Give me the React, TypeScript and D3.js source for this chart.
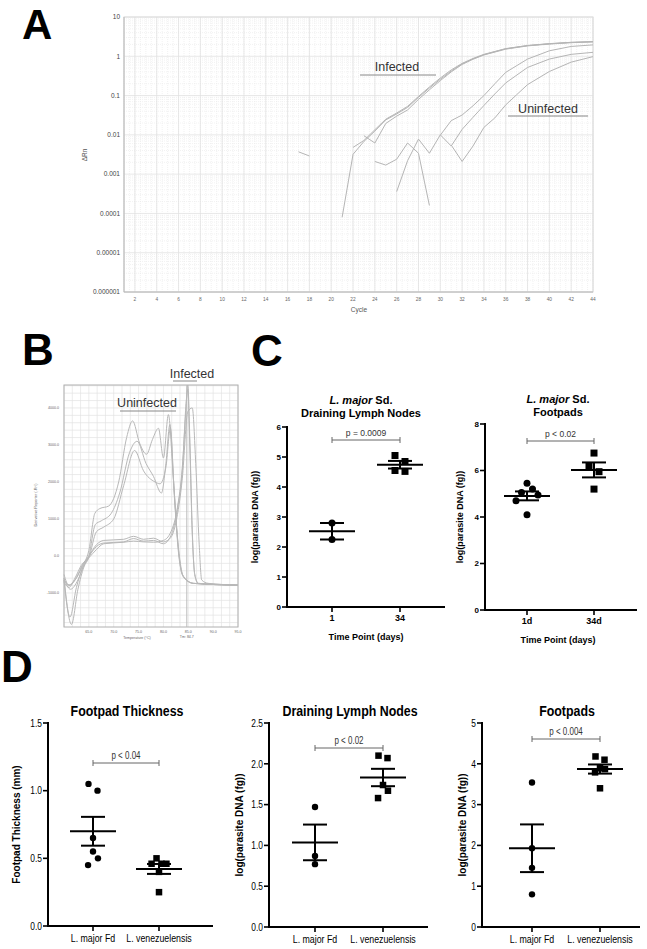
import React from "react";
import * as d3 from "d3";

// ================= DATA =================
// Panel A: amplification plot (cycle, ΔRn)
const ampInfected1: [number, number][] = [[21, 8e-5], [22, 0.0032], [23, 0.0068], [24, 0.0125], [25, 0.024], [26, 0.034], [27, 0.05], [28, 0.09], [29, 0.155], [30, 0.26], [31, 0.42], [32, 0.64], [33, 0.86], [34, 1.1], [36, 1.55], [38, 1.87], [40, 2.08], [42, 2.25], [44, 2.35]];
const ampInfected2: [number, number][] = [[22, 0.0048], [23, 0.0072], [24, 0.0135], [25, 0.025], [26, 0.036], [27, 0.053], [28, 0.095], [29, 0.165], [30, 0.28], [31, 0.45], [32, 0.66], [33, 0.88], [34, 1.12], [36, 1.57], [38, 1.88], [40, 2.1], [42, 2.27], [44, 2.36]];
const ampInfected3: [number, number][] = [[23, 0.0095], [24, 0.0062], [25, 0.0195], [26, 0.03], [27, 0.043], [28, 0.08], [29, 0.14], [30, 0.24], [31, 0.4], [32, 0.62], [33, 0.84], [34, 1.08], [36, 1.52], [38, 1.84], [40, 2.05], [42, 2.22], [44, 2.33]];
const ampUninf1: [number, number][] = [[24, 0.0021], [25, 0.0017], [26, 0.0024], [27, 0.0062], [28, 0.0034], [29, 0.00016]];
const ampUninf2: [number, number][] = [[26, 0.00036], [27, 0.0022], [28, 0.0078], [29, 0.0034], [30, 0.01], [31, 0.0052], [32, 0.0138], [33, 0.028], [34, 0.056], [35, 0.11], [36, 0.21], [38, 0.52], [40, 0.85], [42, 1.12], [44, 1.26]];
const ampUninf3: [number, number][] = [[30, 0.0098], [31, 0.023], [32, 0.032], [33, 0.055], [34, 0.1], [35, 0.2], [36, 0.39], [38, 0.85], [40, 1.38], [42, 1.78], [44, 1.95]];
const ampUninf4: [number, number][] = [[31, 0.0055], [32, 0.0021], [33, 0.0052], [34, 0.0155], [35, 0.027], [36, 0.058], [37, 0.105], [38, 0.19], [40, 0.41], [42, 0.71], [44, 0.98]];
const ampStray: [number, number][] = [[17, 0.0037], [18, 0.0029]];
const ampCurves = [ampInfected1, ampInfected2, ampInfected3, ampUninf1, ampUninf2, ampUninf3, ampUninf4, ampStray];
const ampYTicks = [1e-6, 1e-5, 1e-4, 1e-3, 1e-2, 1e-1, 1, 10];
const ampYTickLabels = ["0.000001", "0.00001", "0.0001", "0.001", "0.01", "0.1", "1", "10"];
const ampXTicks = [2, 4, 6, 8, 10, 12, 14, 16, 18, 20, 22, 24, 26, 28, 30, 32, 34, 36, 38, 40, 42, 44];

// Panel B: melt curves (temperature °C, derivative reporter)
const meltHigh1: [number, number][] = [[60, -500], [61, -800], [62.2, -650], [63.5, -300], [65, 150], [66.2, 1150], [67.2, 1280], [69, 1350], [71, 2000], [72.6, 3200], [73.8, 3650], [75.2, 3050], [76.6, 2750], [77.8, 3150], [79, 3450], [80, 2650], [81, 3820], [81.9, 2300], [82.7, 700], [83.3, -100], [84.1, -580], [86, -740], [95, -790]];
const meltHigh2: [number, number][] = [[60, -650], [61.2, -1650], [62.5, -850], [63.8, -300], [65, 0], [66.3, 850], [67.5, 950], [69.5, 1150], [71.2, 1700], [73.2, 2800], [74.7, 3100], [76.5, 2500], [78, 2150], [79.6, 1700], [80.5, 2500], [81.3, 3550], [82.1, 1900], [83, 200], [83.8, -500], [86, -740], [95, -790]];
const meltHigh3: [number, number][] = [[60, -600], [61.5, -1850], [62.8, -900], [64, -300], [65, -50], [66.5, 650], [68, 780], [70, 1000], [72, 1900], [74.2, 2850], [76, 2300], [78.3, 2000], [79.3, 1950], [80.5, 2400], [81.4, 3450], [82.2, 1600], [83.1, 0], [84, -560], [86, -740], [95, -790]];
const meltLow1: [number, number][] = [[60, -700], [61, -850], [62.2, -600], [63.5, -250], [65, -50], [66.5, 170], [68, 330], [72, 370], [74, 400], [76, 380], [78, 370], [80, 420], [81.5, 650], [82.8, 1300], [83.8, 2400], [84.5, 3900], [84.9, 4620], [85.3, 3200], [85.8, 700], [86.3, -500], [87, -740], [90, -760], [95, -790]];
const meltLow2: [number, number][] = [[60, -650], [61, -780], [62.5, -600], [64, -200], [65, 0], [66.5, 300], [68, 420], [72, 450], [74, 530], [76, 450], [78, 480], [80, 380], [81.5, 500], [82.5, 900], [83.8, 2100], [84.9, 3900], [85.8, 4000], [86.5, 2500], [87.2, 300], [87.7, -650], [89, -740], [95, -790]];
const meltLow3: [number, number][] = [[60, -600], [61.3, -900], [62.8, -650], [64, -250], [65, -20], [66.5, 250], [68, 350], [72, 380], [74, 470], [76, 400], [78, 420], [80, 330], [81.5, 550], [82.8, 1250], [83.8, 2300], [84.6, 4200], [84.9, 4500], [85.3, 3000], [85.8, 600], [86.3, -500], [87, -740], [95, -790]];
const meltCurves = [meltHigh1, meltHigh2, meltHigh3, meltLow1, meltLow2, meltLow3];
const meltYTicks = [-1000, 0, 1000, 2000, 3000, 4000];
const meltXTicks = [65, 70, 75, 80, 85, 90, 95];
const meltTm = 84.7;

// Panel C
const cLeftCats = ["1", "34"];
const cLeftDay1 = [2.8, 2.25];
const cLeftDay34 = [5.05, 4.85, 4.55, 4.52];
const cLeftTicks = [0, 1, 2, 3, 4, 5, 6];
const cRightCats = ["1d", "34d"];
const cRightDay1 = [5.45, 5.2, 5.05, 4.95, 4.7, 4.1];
const cRightDay34 = [6.75, 6.2, 5.95, 5.2];
const cRightTicks = [0, 2, 4, 6, 8];

// Panel D
const dCats = ["L. major Fd", "L. venezuelensis"];
const dThickMajor = [1.05, 1.0, 0.65, 0.55, 0.5, 0.45];
const dThickVen = [0.46, 0.5, 0.46, 0.4, 0.46, 0.25];
const dThickTicks = [0, 0.5, 1.0, 1.5];
const dLymphMajor = [1.47, 0.87, 0.77];
const dLymphVen = [2.1, 2.07, 1.74, 1.67, 1.58];
const dLymphTicks = [0, 0.5, 1.0, 1.5, 2.0, 2.5];
const dFootMajor = [3.54, 1.93, 1.45, 0.8];
const dFootVen = [4.18, 4.1, 3.89, 3.87, 3.79, 3.4];
const dFootTicks = [0, 1, 2, 3, 4, 5];

// ================= HELPERS =================
const SANS = "'Liberation Sans', Arial, Helvetica, sans-serif";

function swarmOffsets(vals: number[], y: (v: number) => number, diam: number, step: number): number[] {
  const idx = vals.map((_, i) => i).sort((a, b) => vals[b] - vals[a]);
  const clusters: number[][] = [];
  let cur: number[] = [];
  idx.forEach((i, k) => {
    if (k === 0 || Math.abs(y(vals[i]) - y(vals[idx[k - 1]])) >= diam) {
      if (cur.length) clusters.push(cur);
      cur = [i];
    } else cur.push(i);
  });
  if (cur.length) clusters.push(cur);
  const off = new Array(vals.length).fill(0);
  clusters.forEach((c) => {
    const n = c.length;
    if (n === 1) return;
    if (n === 2) {
      off[c[0]] = -step / 2;
      off[c[1]] = step / 2;
      return;
    }
    const s = step * 0.55;
    if (n % 2 === 1) {
      c.forEach((i, k) => {
        const m = Math.ceil(k / 2);
        off[i] = k === 0 ? 0 : (k % 2 === 1 ? m : -m) * s;
      });
    } else {
      c.forEach((i, k) => {
        const m = Math.floor(k / 2) + 0.5;
        off[i] = (k % 2 === 0 ? -m : m) * s;
      });
    }
  });
  return off;
}

type Style = {
  sx: number; // horizontal text compression
  titleSize: number;
  tickSize: number;
  tickBold: boolean;
  catSize: number;
  catBold: boolean;
  yLabSize: number;
  pSize: number;
  r: number;
  sq: number;
  step: number;
};

function T(props: { x: number; y: number; sx: number; size: number; bold?: boolean; italic?: boolean; anchor?: string; fill?: string; children: React.ReactNode }) {
  const { x, y, sx, size, bold, italic, anchor = "middle", fill = "#000", children } = props;
  return (
    <text
      transform={`translate(${x},${y}) scale(${sx},1)`}
      textAnchor={anchor as any}
      fontFamily={SANS}
      fontSize={size}
      fontWeight={bold ? "bold" : "normal"}
      fontStyle={italic ? "italic" : "normal"}
      fill={fill}
    >
      {children}
    </text>
  );
}

function ScatterPanel(props: {
  axisX: number;
  axisEnd: number;
  yBottom: number;
  yTop: number;
  ticks: number[];
  fmt: (v: number) => string;
  cats: string[];
  catX: [number, number];
  groups: number[][];
  title: React.ReactNode[];
  titleX: number;
  titleY: number[];
  pText: string;
  bracketY: number;
  yLabel: string;
  yLabelX: number;
  xLabel?: string;
  xLabelX?: number;
  xLabelY?: number;
  st: Style;
}) {
  const p = props;
  const st = p.st;
  const y = d3.scaleLinear().domain([p.ticks[0], p.ticks[p.ticks.length - 1]]).range([p.yBottom, p.yTop]);
  const x = d3.scalePoint<string>().domain(p.cats).range(p.catX);
  const yMid = (p.yBottom + p.yTop) / 2;
  return (
    <g>
      {p.title.map((t, i) => (
        <T key={i} x={p.titleX} y={p.titleY[i]} sx={st.sx} size={st.titleSize} bold>
          {t}
        </T>
      ))}
      {/* axes */}
      <line x1={p.axisX} x2={p.axisX} y1={p.yTop - 1} y2={p.yBottom + 1} stroke="#000" strokeWidth={2} />
      <line x1={p.axisX - 1} x2={p.axisEnd} y1={p.yBottom} y2={p.yBottom} stroke="#000" strokeWidth={2} />
      {p.ticks.map((t) => (
        <g key={t}>
          <line x1={p.axisX - 5} x2={p.axisX} y1={y(t)} y2={y(t)} stroke="#000" strokeWidth={1.6} />
          <T x={p.axisX - 6} y={y(t) + st.tickSize * 0.36} sx={st.sx} size={st.tickSize} bold={st.tickBold} anchor="end">
            {p.fmt(t)}
          </T>
        </g>
      ))}
      {p.cats.map((c) => (
        <g key={c}>
          <line x1={x(c)!} x2={x(c)!} y1={p.yBottom} y2={p.yBottom + 5} stroke="#000" strokeWidth={1.6} />
          <T x={x(c)!} y={p.yBottom + 5 + st.catSize} sx={st.sx} size={st.catSize} bold={st.catBold}>
            {c}
          </T>
        </g>
      ))}
      {p.xLabel && (
        <T x={p.xLabelX!} y={p.xLabelY!} sx={st.sx} size={st.catSize} bold>
          {p.xLabel}
        </T>
      )}
      <text
        transform={`translate(${p.yLabelX},${yMid}) rotate(-90)`}
        textAnchor="middle"
        fontFamily={SANS}
        fontSize={st.yLabSize}
        fontWeight="bold"
      >
        {p.yLabel}
      </text>
      {/* p bracket */}
      <g stroke="#666" strokeWidth={1}>
        <line x1={x(p.cats[0])!} x2={x(p.cats[1])!} y1={p.bracketY} y2={p.bracketY} />
        <line x1={x(p.cats[0])!} x2={x(p.cats[0])!} y1={p.bracketY - 3} y2={p.bracketY + 3} />
        <line x1={x(p.cats[1])!} x2={x(p.cats[1])!} y1={p.bracketY - 3} y2={p.bracketY + 3} />
      </g>
      <T x={(x(p.cats[0])! + x(p.cats[1])!) / 2} y={p.bracketY - 4} sx={st.sx} size={st.pSize} fill="#333">
        {p.pText}
      </T>
      {p.groups.map((vals, gi) => {
        const cx = x(p.cats[gi])!;
        const off = swarmOffsets(vals, y, st.r * 2 + 1, st.step);
        const mean = d3.mean(vals)!;
        const sem = d3.deviation(vals)! / Math.sqrt(vals.length);
        return (
          <g key={gi}>
            {vals.map((v, i) =>
              gi === 0 ? (
                <circle key={i} cx={cx + off[i]} cy={y(v)} r={st.r} fill="#000" />
              ) : (
                <rect key={i} x={cx + off[i] - st.sq / 2} y={y(v) - st.sq / 2} width={st.sq} height={st.sq} fill="#000" />
              )
            )}
            <g stroke="#000" strokeWidth={2}>
              <line x1={cx - 23} x2={cx + 23} y1={y(mean)} y2={y(mean)} />
              <line x1={cx - 12} x2={cx + 12} y1={y(mean + sem)} y2={y(mean + sem)} />
              <line x1={cx - 12} x2={cx + 12} y1={y(mean - sem)} y2={y(mean - sem)} />
              <line x1={cx} x2={cx} y1={y(mean + sem)} y2={y(mean - sem)} />
            </g>
          </g>
        );
      })}
    </g>
  );
}

// ================= PANELS =================
function PanelA() {
  const x = d3.scaleLinear().domain([1, 44]).range([124, 593]);
  const y = d3.scaleLog().domain([1e-6, 10]).range([292, 17]);
  const line = d3.line<[number, number]>().x((d) => x(d[0])).y((d) => y(d[1]));
  const minorY: number[] = [];
  for (let k = -6; k < 1; k++) for (let m = 2; m <= 9; m++) minorY.push(m * Math.pow(10, k));
  const minorX = d3.range(1, 44.01, 0.5);
  return (
    <g>
      <g stroke="#e9e9e9" strokeWidth={0.6} strokeDasharray="1,1">
        {minorY.map((v, i) => (
          <line key={"my" + i} x1={124} x2={593} y1={y(v)} y2={y(v)} />
        ))}
        {minorX.map((v, i) => (
          <line key={"mx" + i} x1={x(v)} x2={x(v)} y1={17} y2={292} />
        ))}
      </g>
      <g stroke="#e2e2e2" strokeWidth={0.8}>
        {ampYTicks.map((v, i) => (
          <line key={"gy" + i} x1={124} x2={593} y1={y(v)} y2={y(v)} />
        ))}
        {ampXTicks.map((v, i) => (
          <line key={"gx" + i} x1={x(v)} x2={x(v)} y1={17} y2={292} />
        ))}
      </g>
      <rect x={124} y={17} width={469} height={275} fill="none" stroke="#dcdcdc" strokeWidth={1} />
      <line x1={124} x2={124} y1={17} y2={292} stroke="#b8b8b8" strokeWidth={1} />
      <line x1={124} x2={593} y1={292} y2={292} stroke="#b8b8b8" strokeWidth={1} />
      {ampYTicks.map((v, i) => (
        <text key={"ty" + i} x={120} y={y(v) + 2.3} textAnchor="end" fontFamily={SANS} fontSize={6.5} fill="#444">
          {ampYTickLabels[i]}
        </text>
      ))}
      {ampXTicks.map((v) => (
        <text key={"tx" + v} x={x(v)} y={301} textAnchor="middle" fontFamily={SANS} fontSize={4.8} fill="#666">
          {v}
        </text>
      ))}
      <text x={359} y={312} textAnchor="middle" fontFamily={SANS} fontSize={6.5} fill="#555">
        Cycle
      </text>
      <text transform="translate(87,155) rotate(-90)" textAnchor="middle" fontFamily={SANS} fontSize={6.5} fill="#555">
        ΔRn
      </text>
      <g fill="none" stroke="#b5b5b5" strokeWidth={1}>
        {ampCurves.map((c, i) => (
          <path key={i} d={line(c)!} />
        ))}
      </g>
      <text x={397} y={71} textAnchor="middle" fontFamily={SANS} fontSize={12.5} fill="#333">
        Infected
      </text>
      <line x1={360} x2={436} y1={75} y2={75} stroke="#888" strokeWidth={1} />
      <text x={548} y={113} textAnchor="middle" fontFamily={SANS} fontSize={12.5} fill="#333">
        Uninfected
      </text>
      <line x1={508} x2={588} y1={116} y2={116} stroke="#888" strokeWidth={1} />
    </g>
  );
}

function PanelB() {
  const x = d3.scaleLinear().domain([60, 95]).range([64, 238]);
  const y = d3.scaleLinear().domain([-1920, 4620]).range([627, 385]);
  const line = d3.line<[number, number]>().x((d) => x(d[0])).y((d) => y(d[1])).curve(d3.curveMonotoneX);
  const gx = d3.range(0, 22).map((i) => 60 + (i * 35) / 21);
  const gy = d3.range(-1800, 4601, 200);
  return (
    <g>
      <rect x={64} y={385} width={174} height={242} fill="#fff" />
      <g stroke="#e3e3e3" strokeWidth={0.7}>
        {gx.map((v, i) => (
          <line key={"bx" + i} x1={x(v)} x2={x(v)} y1={385} y2={627} />
        ))}
        {gy.map((v, i) => (
          <line key={"by" + i} x1={64} x2={238} y1={y(v)} y2={y(v)} />
        ))}
      </g>
      <rect x={64} y={385} width={174} height={242} fill="none" stroke="#b0b0b0" strokeWidth={1} />
      <line x1={x(meltTm)} x2={x(meltTm)} y1={385} y2={627} stroke="#bdbdbd" strokeWidth={1} />
      <g fill="none" stroke="#b8b8b8" strokeWidth={1}>
        {meltCurves.map((c, i) => (
          <path key={i} d={line(c)!} />
        ))}
      </g>
      {meltYTicks.map((v) => (
        <text key={v} x={59} y={y(v) + 1.3} textAnchor="end" fontFamily={SANS} fontSize={3.6} fill="#666">
          {v.toFixed(1)}
        </text>
      ))}
      {meltXTicks.map((v) => (
        <text key={v} x={x(v)} y={633} textAnchor="middle" fontFamily={SANS} fontSize={3.6} fill="#666">
          {v.toFixed(1)}
        </text>
      ))}
      <text x={137} y={639} textAnchor="middle" fontFamily={SANS} fontSize={3.6} fill="#666">
        Temperature (°C)
      </text>
      <text x={x(meltTm)} y={638} textAnchor="middle" fontFamily={SANS} fontSize={3.6} fill="#666">
        Tm: {meltTm}
      </text>
      <text transform="translate(37,505) rotate(-90)" textAnchor="middle" fontFamily={SANS} fontSize={3.8} fill="#666">
        Derivative Reporter (-Rn')
      </text>
      <text x={192} y={378} textAnchor="middle" fontFamily={SANS} fontSize={12.5} fill="#333">
        Infected
      </text>
      <line x1={173} x2={197} y1={381} y2={381} stroke="#888" strokeWidth={1} />
      <text x={147} y={407} textAnchor="middle" fontFamily={SANS} fontSize={12.5} fill="#333">
        Uninfected
      </text>
      <line x1={120} x2={176} y1={411} y2={411} stroke="#888" strokeWidth={1} />
    </g>
  );
}

const cStyle: Style = { sx: 1, titleSize: 11, tickSize: 8, tickBold: true, catSize: 9, catBold: true, yLabSize: 9, pSize: 8.5, r: 3.5, sq: 7, step: 10 };
const dStyle: Style = { sx: 0.8, titleSize: 15.5, tickSize: 10.5, tickBold: false, catSize: 11, catBold: false, yLabSize: 10, pSize: 10, r: 3.2, sq: 6.5, step: 9 };

function PanelC() {
  const one = (v: number) => String(v);
  return (
    <g>
      <ScatterPanel
        axisX={287}
        axisEnd={445}
        yBottom={607}
        yTop={427}
        ticks={cLeftTicks}
        fmt={one}
        cats={cLeftCats}
        catX={[332, 400]}
        groups={[cLeftDay1, cLeftDay34]}
        title={[
          <>
            <tspan fontStyle="italic">L. major</tspan> Sd.
          </>,
          "Draining Lymph Nodes",
        ]}
        titleX={361}
        titleY={[404, 416.5]}
        pText="p = 0.0009"
        bracketY={440}
        yLabel="log(parasite DNA (fg))"
        yLabelX={258}
        xLabel="Time Point (days)"
        xLabelX={366}
        xLabelY={640}
        st={cStyle}
      />
      <ScatterPanel
        axisX={485}
        axisEnd={637}
        yBottom={610}
        yTop={424}
        ticks={cRightTicks}
        fmt={one}
        cats={cRightCats}
        catX={[527, 594]}
        groups={[cRightDay1, cRightDay34]}
        title={[
          <>
            <tspan fontStyle="italic">L. major</tspan> Sd.
          </>,
          "Footpads",
        ]}
        titleX={558}
        titleY={[403, 415.5]}
        pText="p < 0.02"
        bracketY={441}
        yLabel="log(parasite DNA (fg))"
        yLabelX={463}
        xLabel="Time Point (days)"
        xLabelX={558}
        xLabelY={643}
        st={cStyle}
      />
    </g>
  );
}

function PanelD() {
  const f1 = (v: number) => v.toFixed(1);
  const f0 = (v: number) => String(v);
  return (
    <g>
      <ScatterPanel
        axisX={48}
        axisEnd={213}
        yBottom={926}
        yTop={723}
        ticks={dThickTicks}
        fmt={f1}
        cats={dCats}
        catX={[93, 159]}
        groups={[dThickMajor, dThickVen]}
        title={["Footpad Thickness"]}
        titleX={127}
        titleY={[716]}
        pText="p < 0.04"
        bracketY={763}
        yLabel="Footpad Thickness (mm)"
        yLabelX={20}
        st={dStyle}
      />
      <ScatterPanel
        axisX={269}
        axisEnd={428}
        yBottom={927}
        yTop={723}
        ticks={dLymphTicks}
        fmt={f1}
        cats={dCats}
        catX={[315, 383]}
        groups={[dLymphMajor, dLymphVen]}
        title={["Draining Lymph Nodes"]}
        titleX={350}
        titleY={[716]}
        pText="p < 0.02"
        bracketY={748}
        yLabel="log(parasite DNA (fg))"
        yLabelX={243}
        st={dStyle}
      />
      <ScatterPanel
        axisX={482}
        axisEnd={640}
        yBottom={927}
        yTop={723}
        ticks={dFootTicks}
        fmt={f0}
        cats={dCats}
        catX={[532, 600]}
        groups={[dFootMajor, dFootVen]}
        title={["Footpads"]}
        titleX={567}
        titleY={[716]}
        pText="p < 0.004"
        bracketY={739}
        yLabel="log(parasite DNA (fg))"
        yLabelX={466}
        st={dStyle}
      />
    </g>
  );
}

export default function App() {
  return (
    <svg width={647} height={949} style={{ position: "absolute", left: 0, top: 0, background: "#fff" }}>
      <rect width={647} height={949} fill="#fff" />
      <text x={22} y={39} fontFamily={SANS} fontWeight="bold" fontSize={42}>A</text>
      <text x={22} y={365} fontFamily={SANS} fontWeight="bold" fontSize={44}>B</text>
      <text x={251} y={366} fontFamily={SANS} fontWeight="bold" fontSize={44}>C</text>
      <text x={1} y={682} fontFamily={SANS} fontWeight="bold" fontSize={44}>D</text>
      <PanelA />
      <PanelB />
      <PanelC />
      <PanelD />
    </svg>
  );
}
